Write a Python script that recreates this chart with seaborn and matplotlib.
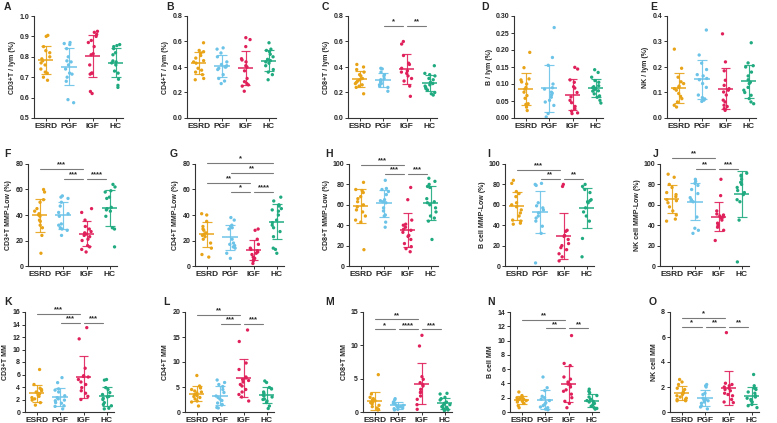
import numpy as np
import pandas as pd
import matplotlib
matplotlib.use("Agg")
import matplotlib.pyplot as plt
import seaborn as sns

sns.set_theme(style="ticks")
plt.rcParams["font.family"] = ["Liberation Sans", "DejaVu Sans"]
plt.rcParams["font.weight"] = "bold"

groups = ["ESRD", "PGF", "IGF", "HC"]
colors = ["#E8A317", "#6CC3E8", "#E0205A", "#1FAA80"]

# ---------------- data ----------------
A_ESRD = [0.90, 0.905, 0.85, 0.83, 0.82, 0.80, 0.79, 0.78, 0.77, 0.76, 0.74, 0.725, 0.72, 0.70, 0.685]
A_PGF = [0.87, 0.865, 0.86, 0.84, 0.80, 0.78, 0.775, 0.76, 0.74, 0.72, 0.715, 0.70, 0.68, 0.59, 0.575]
A_IGF = [0.925, 0.92, 0.91, 0.90, 0.88, 0.87, 0.85, 0.815, 0.81, 0.76, 0.72, 0.72, 0.715, 0.63, 0.62]
A_HC = [0.86, 0.855, 0.85, 0.84, 0.82, 0.81, 0.78, 0.775, 0.77, 0.76, 0.73, 0.72, 0.69, 0.66, 0.65]

B_ESRD = [0.59, 0.53, 0.52, 0.51, 0.49, 0.47, 0.45, 0.44, 0.43, 0.39, 0.375, 0.36, 0.34, 0.31, 0.30]
B_PGF = [0.55, 0.54, 0.51, 0.48, 0.44, 0.42, 0.41, 0.40, 0.40, 0.39, 0.38, 0.34, 0.31, 0.29, 0.27]
B_IGF = [0.63, 0.615, 0.56, 0.465, 0.455, 0.44, 0.41, 0.40, 0.37, 0.31, 0.285, 0.27, 0.26, 0.25, 0.21]
B_HC = [0.59, 0.54, 0.53, 0.52, 0.50, 0.48, 0.46, 0.45, 0.44, 0.43, 0.41, 0.38, 0.36, 0.34, 0.30]

C_ESRD = [0.42, 0.40, 0.38, 0.36, 0.34, 0.33, 0.31, 0.30, 0.29, 0.28, 0.27, 0.26, 0.25, 0.24, 0.19]
C_PGF = [0.39, 0.385, 0.36, 0.34, 0.33, 0.31, 0.30, 0.29, 0.28, 0.27, 0.26, 0.25, 0.24, 0.21]
C_IGF = [0.60, 0.58, 0.49, 0.43, 0.42, 0.39, 0.37, 0.36, 0.35, 0.33, 0.31, 0.29, 0.25, 0.17]
C_HC = [0.41, 0.35, 0.34, 0.33, 0.31, 0.30, 0.28, 0.27, 0.26, 0.25, 0.24, 0.23, 0.22, 0.20, 0.19, 0.18]

D_ESRD = [0.193, 0.148, 0.115, 0.112, 0.106, 0.10, 0.09, 0.085, 0.076, 0.066, 0.058, 0.042, 0.040, 0.032, 0.022]
D_PGF = [0.266, 0.178, 0.155, 0.10, 0.089, 0.085, 0.076, 0.073, 0.068, 0.061, 0.052, 0.047, 0.037, 0.013, 0.003]
D_IGF = [0.149, 0.144, 0.112, 0.105, 0.092, 0.088, 0.075, 0.062, 0.052, 0.045, 0.034, 0.027, 0.02, 0.015, 0.013]
D_HC = [0.142, 0.134, 0.12, 0.11, 0.105, 0.095, 0.092, 0.089, 0.086, 0.083, 0.08, 0.079, 0.071, 0.065, 0.061, 0.052, 0.044]

E_ESRD = [0.27, 0.195, 0.16, 0.142, 0.135, 0.125, 0.12, 0.115, 0.109, 0.096, 0.085, 0.076, 0.063, 0.05, 0.043]
E_PGF = [0.345, 0.247, 0.215, 0.19, 0.17, 0.165, 0.155, 0.15, 0.135, 0.12, 0.09, 0.08, 0.075, 0.07, 0.065]
E_IGF = [0.33, 0.22, 0.185, 0.148, 0.128, 0.115, 0.109, 0.102, 0.09, 0.07, 0.063, 0.05, 0.045, 0.037, 0.03]
E_HC = [0.295, 0.216, 0.205, 0.2, 0.18, 0.165, 0.15, 0.14, 0.135, 0.12, 0.109, 0.1, 0.089, 0.076, 0.063, 0.056]

F_ESRD = [60, 58, 52, 50, 45, 43, 41, 40, 39, 36, 35, 32, 30, 24, 10]
F_PGF = [55, 54, 53, 50, 47, 42, 41, 39, 33, 32, 30, 29, 28, 24]
F_IGF = [45, 42, 36, 31, 29, 27, 26, 25, 24, 23, 21, 20, 16, 15, 13, 11]
F_HC = [64, 62, 59, 58, 54, 53, 46, 45, 44, 43, 39, 30, 29, 15]

G_ESRD = [41, 40, 35, 31, 29, 28, 26, 25, 24, 23, 21, 18, 14, 9, 7]
G_PGF = [38, 36, 32, 31, 30, 29, 21, 18, 17, 16, 15, 14, 10, 6]
G_IGF = [29, 28, 21, 17, 14, 13, 12, 11, 10, 9, 7, 6, 5, 4, 2]
G_HC = [54, 51, 48, 47, 45, 44, 43, 40, 36, 34, 32, 30, 27, 23, 14, 13, 10]

H_ESRD = [82, 75, 74, 72, 68, 66, 63, 60, 58, 55, 53, 49, 45, 43, 16]
H_PGF = [84, 76, 75, 73, 70, 65, 64, 63, 62, 57, 54, 50, 49, 43, 38]
H_IGF = [77, 65, 45, 41, 40, 38, 36, 35, 33, 30, 29, 26, 22, 19, 17, 14]
H_HC = [86, 83, 80, 78, 77, 66, 63, 62, 60, 57, 53, 49, 47, 44, 26]

I_ESRD = [84, 81, 73, 71, 68, 62, 60, 58, 55, 52, 49, 45, 44, 42, 41]
I_PGF = [81, 80, 79, 62, 59, 57, 55, 52, 49, 47, 44, 39, 32, 3]
I_IGF = [80, 78, 35, 34, 30, 29, 26, 22, 20, 18, 16, 12, 9, 5]
I_HC = [80, 78, 75, 72, 65, 64, 63, 62, 57, 53, 49, 44, 27, 9]

J_ESRD = [90, 87, 80, 77, 72, 70, 68, 65, 64, 62, 58, 54, 50, 46, 44]
J_PGF = [85, 83, 81, 79, 75, 71, 67, 65, 64, 63, 48, 37, 35, 32]
J_IGF = [85, 69, 54, 51, 50, 49, 48, 47, 45, 42, 40, 38, 35, 25]
J_HC = [91, 89, 88, 85, 82, 80, 77, 74, 72, 70, 65, 63, 45, 4]

K_ESRD = [6.8, 4.4, 3.8, 3.6, 3.4, 3.2, 3.0, 2.9, 2.7, 2.5, 2.3, 2.1, 1.9, 1.5, 1.1]
K_PGF = [5.5, 4.7, 3.7, 3.5, 3.2, 2.6, 2.3, 2.1, 1.9, 1.8, 1.5, 1.4, 1.0, 0.9, 0.5]
K_IGF = [13.5, 11.7, 7.0, 5.8, 5.7, 5.6, 5.2, 4.8, 4.4, 3.9, 3.4, 3.0, 2.5, 2.0]
K_HC = [5.2, 5.1, 3.9, 3.6, 3.1, 2.8, 2.5, 2.4, 2.2, 2.0, 1.5, 1.2, 1.0, 0.6, 0.5]

L_ESRD = [7.3, 5.2, 4.8, 4.5, 4.2, 4.0, 3.8, 3.5, 3.3, 3.1, 2.9, 2.6, 2.2, 2.0, 1.2]
L_PGF = [6.4, 5.9, 5.5, 5.1, 4.5, 3.9, 3.2, 2.9, 2.6, 2.3, 1.8, 1.5, 1.4, 0.9, 0.8]
L_IGF = [16.4, 14.1, 9.8, 8.5, 7.0, 6.8, 6.5, 6.3, 6.0, 5.5, 5.2, 4.5, 4.0, 3.5, 3.0, 2.2]
L_HC = [6.2, 5.9, 4.9, 4.6, 4.0, 3.7, 3.4, 3.2, 3.0, 2.6, 2.5, 2.2, 1.9, 1.2, 0.7]

M_ESRD = [5.6, 2.7, 2.2, 2.0, 1.8, 1.7, 1.6, 1.5, 1.4, 1.2, 1.0, 0.8, 0.6, 0.4, 0.3]
M_PGF = [2.0, 1.8, 1.5, 1.3, 1.2, 1.0, 0.9, 0.8, 0.8, 0.7, 0.6, 0.5, 0.4, 0.3]
M_IGF = [11.5, 9.9, 5.3, 4.9, 4.4, 4.1, 3.9, 3.4, 3.0, 2.9, 2.4, 1.9, 1.1, 0.4]
M_HC = [2.8, 2.7, 2.2, 2.0, 1.8, 1.5, 1.3, 1.1, 1.0, 0.8, 0.7, 0.5, 0.4, 0.3, 0.2]

N_ESRD = [2.8, 2.3, 2.1, 2.0, 1.9, 1.8, 1.8, 1.7, 1.7, 1.6, 1.5, 1.4, 1.2, 0.9, 0.6]
N_PGF = [4.9, 3.4, 3.0, 2.2, 2.0, 1.8, 1.6, 1.3, 1.1, 0.9, 0.7, 0.6, 0.4, 0.3]
N_IGF = [10.7, 6.8, 6.5, 4.9, 4.6, 4.2, 3.9, 3.8, 3.5, 3.1, 2.9, 2.5, 2.0, 1.5, 1.2, 0.6]
N_HC = [3.2, 2.9, 2.7, 2.3, 2.1, 1.8, 1.6, 1.5, 1.4, 1.2, 1.0, 0.8, 0.6, 0.5, 0.4]

O_ESRD = [2.6, 2.4, 2.2, 1.9, 1.8, 1.6, 1.5, 1.4, 1.3, 1.2, 1.1, 1.0, 1.0, 0.9, 0.9]
O_PGF = [2.2, 2.1, 2.0, 1.5, 1.4, 1.1, 1.0, 0.95, 0.9, 0.8, 0.7, 0.5, 0.4, 0.25]
O_IGF = [6.35, 2.3, 2.2, 2.1, 2.0, 1.9, 1.8, 1.7, 1.5, 1.4, 1.3, 1.0, 0.8, 0.75]
O_HC = [3.0, 2.1, 1.9, 1.8, 1.6, 1.5, 1.3, 1.2, 1.1, 1.0, 0.9, 0.8, 0.6, 0.5, 0.35]

ylabels = ["CD3+T / lym (%)", "CD4+T / lym (%)", "CD8+T / lym (%)", "B / lym (%)", "NK / lym (%)",
           "CD3+T MMP-Low (%)", "CD4+T MMP-Low (%)", "CD8+T MMP-Low (%)", "B cell MMP-Low (%)", "NK cell MMP-Low (%)",
           "CD3+T MM", "CD4+T MM", "CD8+T MM", "B cell MM", "NK cell MM"]
letters = list("ABCDEFGHIJKLMNO")

# significance comparisons: (group1, group2, height, stars)
sig = {
    "C": [("PGF", "IGF", 0.72, "*"), ("IGF", "HC", 0.72, "**")],
    "F": [("ESRD", "IGF", 76, "***"), ("PGF", "IGF", 68.5, "***"), ("IGF", "HC", 68.5, "****")],
    "G": [("ESRD", "HC", 80.7, "*"), ("PGF", "HC", 72.8, "**"), ("ESRD", "IGF", 65.4, "**"),
          ("PGF", "IGF", 58.3, "*"), ("IGF", "HC", 58.3, "****")],
    "H": [("ESRD", "IGF", 99.3, "***"), ("PGF", "IGF", 90.2, "***"), ("IGF", "HC", 90.2, "***")],
    "I": [("ESRD", "IGF", 94.4, "***"), ("PGF", "IGF", 85.2, "**"), ("IGF", "HC", 85.2, "**")],
    "J": [("ESRD", "IGF", 105.9, "**"), ("PGF", "IGF", 95.4, "**"), ("IGF", "HC", 95.4, "***")],
    "K": [("ESRD", "IGF", 15.7, "***"), ("PGF", "IGF", 14.25, "***"), ("IGF", "HC", 14.25, "***")],
    "L": [("ESRD", "IGF", 19.5, "**"), ("PGF", "IGF", 17.7, "***"), ("IGF", "HC", 17.7, "***")],
    "M": [("ESRD", "IGF", 13.9, "**"), ("ESRD", "PGF", 12.4, "*"), ("PGF", "IGF", 12.4, "****"),
          ("IGF", "HC", 12.4, "***")],
    "N": [("ESRD", "IGF", 12.9, "**"), ("PGF", "IGF", 11.7, "**"), ("IGF", "HC", 11.7, "**")],
    "O": [("ESRD", "IGF", 7.55, "*"), ("ESRD", "PGF", 6.8, "*"), ("PGF", "IGF", 6.8, "**"),
          ("IGF", "HC", 6.8, "**")],
}

yaxes = {
    "A": (0.5, 1.0, 0.1, "{:.1f}"), "B": (0, 0.8, 0.2, "{:.1f}"), "C": (0, 0.8, 0.2, "{:.1f}"),
    "D": (0, 0.30, 0.05, "{:.2f}"), "E": (0, 0.4, 0.1, "{:.1f}"),
    "F": (0, 80, 20, "{:.0f}"), "G": (0, 80, 20, "{:.0f}"), "H": (0, 100, 20, "{:.0f}"),
    "I": (0, 100, 20, "{:.0f}"), "J": (0, 100, 20, "{:.0f}"),
    "K": (0, 16, 2, "{:.0f}"), "L": (0, 20, 5, "{:.0f}"), "M": (0, 15, 5, "{:.0f}"),
    "N": (0, 14, 2, "{:.0f}"), "O": (0, 8, 2, "{:.0f}"),
}

data = {}
for L in letters:
    data[L] = [globals()[f"{L}_{g}"] for g in groups]

# ---------------- layout (pixels) ----------------
W, H = 777, 423
rows_tb = [(16, 118), (164, 266), (312, 412)]
cols_left = [[34, 187, 348, 514, 667], [28, 195, 349, 505, 660], [25, 185, 363, 510, 670]]
letter_pos = [[(4, 7), (166, 7), (322, 7), (481, 7), (650, 7)],
              [(4, 154), (170, 154), (325, 154), (487, 154), (653, 154)],
              [(4, 302), (163, 302), (325, 302), (487, 302), (649, 302)]]
axw = 89

fig = plt.figure(figsize=(W / 100, H / 100), dpi=100)
fig.patch.set_facecolor("white")

for i, L in enumerate(letters):
    r, c = divmod(i, 5)
    top, bot = rows_tb[r]
    left = cols_left[r][c]
    ax = fig.add_axes([left / W, 1 - bot / H, axw / W, (bot - top) / H])
    vals = data[L]
    df = pd.DataFrame({"group": np.concatenate([[g] * len(v) for g, v in zip(groups, vals)]),
                       "value": np.concatenate([np.asarray(v, float) for v in vals])})
    np.random.seed(3 + i)
    sns.stripplot(data=df, x="group", y="value", hue="group", order=groups, hue_order=groups,
                  palette=colors, jitter=0.22, size=2.4, linewidth=0, ax=ax, legend=False, zorder=3)
    # mean +/- SD
    stats = df.groupby("group")["value"].agg(["mean", "std"]).reindex(groups)
    for k, g in enumerate(groups):
        m, s = stats.loc[g, "mean"], stats.loc[g, "std"]
        col = colors[k]
        ax.hlines(m, k - 0.33, k + 0.33, color=col, lw=1.2, zorder=2, alpha=0.9)
        ax.vlines(k, m - s, m + s, color=col, lw=0.85, zorder=2, alpha=0.9)
        ax.hlines([m - s, m + s], k - 0.21, k + 0.21, color=col, lw=0.85, zorder=2, alpha=0.9)
    lo, hi, step, fmt = yaxes[L]
    ax.set_ylim(lo, hi)
    ticks = np.arange(lo, hi + step / 2, step)
    ax.set_yticks(ticks)
    ax.set_yticklabels([fmt.format(t) for t in ticks], fontsize=5, fontweight="bold")
    ax.set_xlim(-0.5, 3.3)
    ax.set_xticks(range(4))
    ax.set_xticklabels(groups, fontsize=6, fontweight="bold")
    ax.set_xlabel("")
    ax.set_ylabel(ylabels[i], fontsize=5, fontweight="bold", labelpad=2)
    for sp in ["top", "right"]:
        ax.spines[sp].set_visible(False)
    for sp in ["left", "bottom"]:
        ax.spines[sp].set_color("#333333")
        ax.spines[sp].set_linewidth(0.8)
    ax.tick_params(axis="both", length=2, width=0.7, color="#333333", pad=1.5)
    ax.set_facecolor("none")
    # significance brackets
    for g1, g2, yv, stars in sig.get(L, []):
        x1, x2 = groups.index(g1), groups.index(g2)
        ax.plot([x1 + 0.02, x2 - 0.15], [yv, yv], color="#7a7a7a", lw=0.8, clip_on=False, zorder=4)
        ax.annotate(stars, xy=((x1 + x2 - 0.13) / 2, yv), xytext=(0, 0.4), textcoords="offset points",
                    ha="center", va="bottom", fontsize=5.5, fontweight="bold", annotation_clip=False)
    lx, ly = letter_pos[r][c]
    fig.text(lx / W, 1 - ly / H, L, fontsize=7.5, fontweight="bold", ha="left", va="center")

fig.savefig("out.png", dpi=100, facecolor="white")
